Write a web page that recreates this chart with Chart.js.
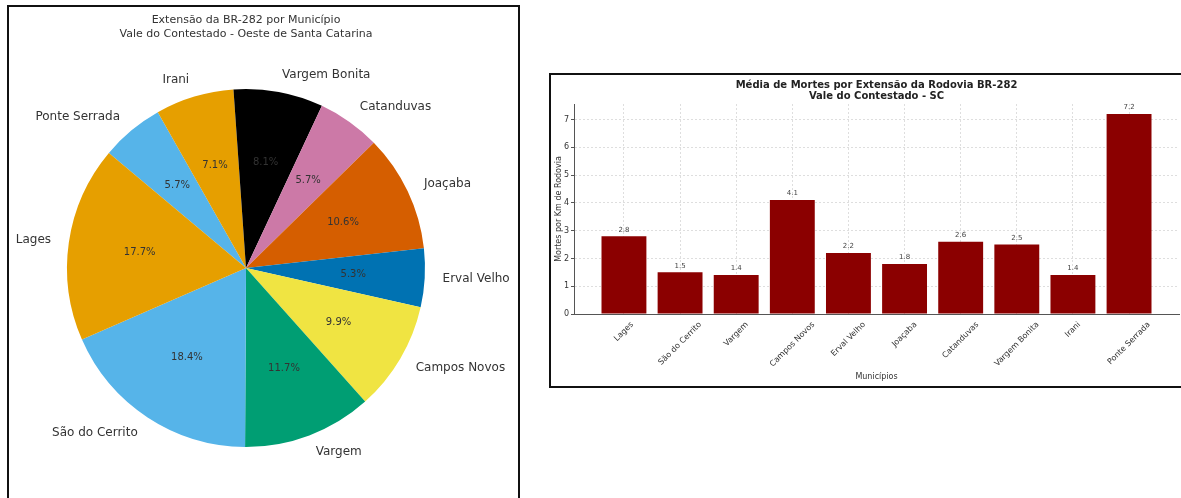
<!DOCTYPE html>
<html>
<head>
<meta charset="utf-8">
<script src="https://cdn.jsdelivr.net/npm/chart.js@4"></script>
<style>
  body { margin: 0; background: #fff; width: 1181px; height: 498px; overflow: hidden; position: relative; }
  canvas { position: absolute; }
  .box { position: absolute; border: 2px solid #111; box-sizing: border-box; pointer-events: none; }
</style>
</head>
<body>
<canvas id="pieChart" width="530" height="498" style="left:0;top:0"></canvas>
<div class="box" style="left:7px;top:5px;width:513px;height:600px"></div>
<canvas id="barChart" width="630" height="311" style="left:551px;top:75px"></canvas>
<div class="box" style="left:549px;top:73px;width:700px;height:315px"></div>
<script>
// municipios ao longo da BR-282
const municipios = ['Lages', 'São do Cerrito', 'Vargem', 'Campos Novos', 'Erval Velho',
  'Joaçaba', 'Catanduvas', 'Vargem Bonita', 'Irani', 'Ponte Serrada'];
// % da extensao da rodovia em cada municipio
const extensaoPct = [17.7, 18.4, 11.7, 9.9, 5.3, 10.6, 5.7, 8.1, 7.1, 5.7];
// mortes por km
const mortesPorKm = [2.8, 1.5, 1.4, 4.1, 2.2, 1.8, 2.6, 2.5, 1.4, 7.2];
const yTicks = [0, 1, 2, 3, 4, 5, 6, 7];
const pieColors = ['#E69F00', '#56B4E9', '#009E73', '#F0E442', '#0072B2',
  '#D55E00', '#CC79A7', '#000000', '#E69F00', '#56B4E9'];

Chart.defaults.font.family = '"DejaVu Sans", sans-serif';
Chart.defaults.color = '#333';

// rótulos da pizza: nome fora (1.1 r) e percentual dentro (0.6 r)
const pieLabels = {
  id: 'pieLabels',
  afterDatasetsDraw(chart) {
    const ctx = chart.ctx;
    const labels = chart.data.labels;
    const vals = chart.data.datasets[0].data;
    chart.getDatasetMeta(0).data.forEach((arc, i) => {
      const p = arc.getProps(['x', 'y', 'startAngle', 'endAngle', 'outerRadius'], true);
      const mid = (p.startAngle + p.endAngle) / 2;
      const c = Math.cos(mid), s = Math.sin(mid);
      ctx.save();
      ctx.fillStyle = '#333';
      ctx.textBaseline = 'middle';
      ctx.font = '10px "DejaVu Sans"';
      ctx.textAlign = 'center';
      ctx.fillText(vals[i].toFixed(1) + '%', p.x + c * p.outerRadius * 0.6, p.y + s * p.outerRadius * 0.6);
      ctx.font = '12px "DejaVu Sans"';
      ctx.textAlign = c > 0 ? 'left' : 'right';
      ctx.fillText(labels[i], p.x + c * p.outerRadius * 1.1, p.y + s * p.outerRadius * 1.1);
      ctx.restore();
    });
  }
};

// matplotlib desenha anti-horario, chart.js horario -> inverte a ordem
const rev = a => a.slice().reverse();

new Chart(document.getElementById('pieChart'), {
  type: 'pie',
  data: {
    labels: rev(municipios),
    datasets: [{
      data: rev(extensaoPct),
      backgroundColor: rev(pieColors),
      borderWidth: 0,
      hoverOffset: 0
    }]
  },
  options: {
    responsive: false,
    animation: false,
    rotation: -50,
    layout: { padding: { left: 67, right: 105, top: 0, bottom: 51 } },
    plugins: {
      legend: { display: false },
      tooltip: { enabled: false },
      title: {
        display: true,
        text: ['Extensão da BR-282 por Município', 'Vale do Contestado - Oeste de Santa Catarina'],
        font: { size: 11, weight: 'normal', lineHeight: 1.27 },
        color: '#333',
        padding: { top: 13, bottom: 48 }
      }
    }
  },
  plugins: [pieLabels]
});

// valores em cima das barras + rótulos do eixo x girados 45° e centrados no tick
const barText = {
  id: 'barText',
  afterDatasetsDraw(chart) {
    const ctx = chart.ctx;
    const vals = chart.data.datasets[0].data;
    chart.getDatasetMeta(0).data.forEach((bar, i) => {
      ctx.save();
      ctx.fillStyle = '#444';
      ctx.font = '7px "DejaVu Sans"';
      ctx.textAlign = 'center';
      ctx.textBaseline = 'bottom';
      ctx.fillText(vals[i].y.toFixed(1), bar.x, bar.y - 3);
      ctx.restore();
    });
    const xs = chart.scales.x;
    const size = 8;
    ctx.save();
    ctx.font = size + 'px "DejaVu Sans"';
    ctx.fillStyle = '#333';
    ctx.textAlign = 'center';
    ctx.textBaseline = 'middle';
    xs.ticks.forEach(t => {
      const txt = municipios[t.value];
      const w = ctx.measureText(txt).width;
      const half = (w + size * 1.2) * Math.SQRT1_2 / 2;
      ctx.save();
      ctx.translate(xs.getPixelForValue(t.value), xs.top + 6 + half);
      ctx.rotate(-Math.PI / 4);
      ctx.fillText(txt, 0, 0);
      ctx.restore();
    });
    ctx.restore();
  }
};

new Chart(document.getElementById('barChart'), {
  type: 'bar',
  data: {
    datasets: [{
      data: mortesPorKm.map((v, i) => ({ x: i, y: v })),
      backgroundColor: '#8B0000',
      borderWidth: 0,
      categoryPercentage: 1,
      barPercentage: 0.8
    }]
  },
  options: {
    responsive: false,
    animation: false,
    layout: { padding: { left: 0, right: 2, top: 0, bottom: 0 } },
    plugins: {
      legend: { display: false },
      tooltip: { enabled: false },
      title: {
        display: true,
        fullSize: false,
        text: ['Média de Mortes por Extensão da Rodovia BR-282', 'Vale do Contestado - SC'],
        font: { size: 10, weight: 'bold', lineHeight: 1.1 },
        color: '#222',
        padding: { top: 4.5, bottom: 2.5 }
      }
    },
    scales: {
      x: {
        type: 'linear',
        offset: false,
        min: -0.89,
        max: 9.89,
        afterBuildTicks: s => { s.ticks = municipios.map((_, i) => ({ value: i })); },
        afterFit: s => { s.height = 72; },
        ticks: { display: false },
        grid: { offset: false, color: 'rgba(0,0,0,0.13)', drawTicks: false },
        border: { display: true, color: '#555', width: 1, dash: [2, 2] },
        title: { display: true, text: 'Municípios', font: { size: 8 }, color: '#333', padding: { bottom: 4 } }
      },
      y: {
        min: 0,
        max: 7.56,
        afterBuildTicks: s => { s.ticks = yTicks.map(v => ({ value: v })); },
        afterFit: s => { s.width = 23; },
        ticks: { font: { size: 8 }, color: '#333', padding: 2 },
        grid: { color: 'rgba(0,0,0,0.13)', tickLength: 3, tickColor: '#555' },
        border: { display: true, color: '#555', width: 1, dash: [2, 2] },
        title: { display: true, text: 'Mortes por Km de Rodovia', font: { size: 8 }, color: '#333', padding: { top: 3 } }
      }
    }
  },
  plugins: [barText]
});
</script>
</body>
</html>
